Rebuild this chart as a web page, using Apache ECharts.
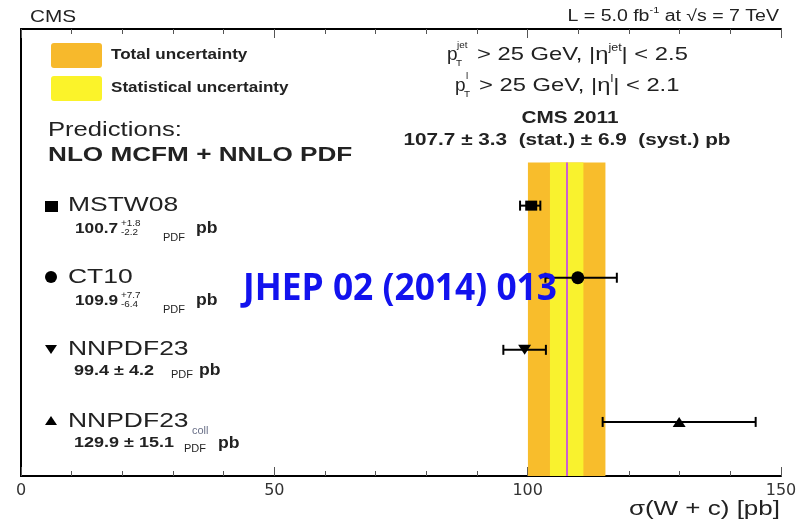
<!DOCTYPE html>
<html>
<head>
<meta charset="utf-8">
<script src="https://cdn.jsdelivr.net/npm/echarts@6/dist/echarts.min.js"></script>
<style>
html,body{margin:0;padding:0;background:#fff;}
#chart{width:807px;height:520px;}
</style>
</head>
<body>
<div id="chart"></div>
<script>
// ---- data ----
var predNames = ['MSTW08', 'CT10', 'NNPDF23', 'NNPDF23coll'];
var predValues = [100.7, 109.9, 99.4, 129.9];
var predErrUp = [1.8, 7.7, 4.2, 15.1];
var predErrDown = [2.2, 6.4, 4.2, 15.1];
var predRows = [3.75, 2.75, 1.75, 0.75];
var measValue = 107.7;
var measStat = 3.3;
var measSyst = 6.9;
var xTicks = [0, 50, 100, 150];

var measTotal = Math.sqrt(measStat * measStat + measSyst * measSyst);
var bandTop = 4.35;

var chart = echarts.init(document.getElementById('chart'));

var FONT = '"Liberation Sans", Arial, sans-serif';
var SX = 1.22;

function txt(x, y, text, size, opts) {
  opts = opts || {};
  return {
    type: 'text', x: x, y: y, scaleX: opts.sx || SX, z: 100,
    style: {
      text: text,
      fontFamily: opts.family || FONT,
      fontSize: size,
      fontWeight: opts.bold ? 'bold' : 'normal',
      fill: opts.color || '#222',
      align: opts.align || 'left',
      verticalAlign: 'middle',
      rich: opts.rich
    }
  };
}

var richSup = {
  m: {fontSize: 19, fontFamily: FONT, fill: '#222', lineHeight: 24, verticalAlign: 'middle'},
  sup: {fontSize: 10, fontFamily: FONT, fill: '#222', lineHeight: 12, verticalAlign: 'top'}
};

var markerData = predValues.map(function (v, i) { return [v, predRows[i]]; });
var errData = predValues.map(function (v, i) {
  return [v - predErrDown[i], v + predErrUp[i], predRows[i]];
});

var symbols = ['rect', 'circle', 'path://M0,0 L12,0 L6,10 Z', 'path://M6,0 L12,10 L0,10 Z'];
var symbolSizes = [[12, 10], 13, [13, 10], [13, 10]];

var graphics = [
  txt(30, 17, 'CMS', 17),
  txt(779, 17, '{m|L = 5.0 fb}{sup|-1}{m| at √s = 7 TeV}', 16, {align: 'right', rich: {
    m: {fontSize: 16, fontFamily: FONT, fill: '#222', lineHeight: 22},
    sup: {fontSize: 9, fontFamily: FONT, fill: '#222', lineHeight: 10, verticalAlign: 'top'}
  }}),
  {type: 'rect', z: 100, shape: {x: 51, y: 43, width: 51, height: 25, r: 3}, style: {fill: '#f7b92c'}},
  {type: 'rect', z: 100, shape: {x: 51, y: 76, width: 51, height: 25, r: 3}, style: {fill: '#fbf32a'}},
  txt(111, 55, 'Total uncertainty', 14, {bold: true}),
  txt(111, 88, 'Statistical uncertainty', 14, {bold: true}),
  txt(48, 130, 'Predictions:', 21),
  txt(48, 155, 'NLO MCFM + NNLO PDF', 21, {bold: true, sx: 1.245}),

  // kinematic cuts
  txt(447, 55, 'p', 19, {sx: 1.0}),
  txt(456, 64, 'T', 9, {sx: 1.1}),
  txt(457, 46, 'jet', 9, {sx: 1.1}),
  txt(477, 55, '{m|> 25 GeV, |η}{sup|jet}{m|| < 2.5}', 19, {rich: richSup, sx: 1.25}),
  txt(455, 86, 'p', 19, {sx: 1.0}),
  txt(464, 95, 'T', 9, {sx: 1.1}),
  txt(466, 77, 'l', 9, {sx: 1.1}),
  txt(479, 86, '{m|> 25 GeV, |η}{sup|l}{m|| < 2.1}', 19, {rich: richSup, sx: 1.25}),
  txt(570, 118, 'CMS 2011', 17, {bold: true, align: 'center'}),
  txt(567, 140, '107.7 ± 3.3  (stat.) ± 6.9  (syst.) pb', 17, {bold: true, align: 'center'}),

  // prediction labels
  {type: 'rect', z: 100, shape: {x: 45, y: 201, width: 13, height: 11}, style: {fill: '#000'}},
  txt(68, 205, 'MSTW08', 21, {sx: 1.26}),
  txt(75, 229, '100.7', 15, {bold: true, sx: 1.15}),
  txt(121, 224, '+1.8', 9, {sx: 1.1}),
  txt(121, 233, '-2.2', 9, {sx: 1.1}),
  txt(163, 238, 'PDF', 10, {sx: 1.1}),
  txt(196, 229, 'pb', 16, {bold: true, sx: 1.1}),

  {type: 'circle', z: 100, shape: {cx: 51, cy: 277, r: 6}, style: {fill: '#000'}},
  txt(68, 277, 'CT10', 21, {sx: 1.26}),
  txt(75, 301, '109.9', 15, {bold: true, sx: 1.15}),
  txt(121, 296, '+7.7', 9, {sx: 1.1}),
  txt(121, 305, '-6.4', 9, {sx: 1.1}),
  txt(163, 310, 'PDF', 10, {sx: 1.1}),
  txt(196, 301, 'pb', 16, {bold: true, sx: 1.1}),

  {type: 'polygon', z: 100, shape: {points: [[45, 345], [57, 345], [51, 354]]}, style: {fill: '#000'}},
  txt(68, 349, 'NNPDF23', 21, {sx: 1.26}),
  txt(74, 371, '99.4 ± 4.2', 15, {bold: true, sx: 1.2}),
  txt(171, 375, 'PDF', 10, {sx: 1.1}),
  txt(199, 371, 'pb', 16, {bold: true, sx: 1.1}),

  {type: 'polygon', z: 100, shape: {points: [[51, 416], [57, 425], [45, 425]]}, style: {fill: '#000'}},
  txt(68, 421, 'NNPDF23', 21, {sx: 1.26}),
  txt(192, 431, 'coll', 10, {color: '#6a7088', sx: 1.1}),
  txt(74, 443, '129.9 ± 15.1', 15, {bold: true, sx: 1.2}),
  txt(184, 449, 'PDF', 10, {sx: 1.1}),
  txt(218, 444, 'pb', 16, {bold: true, sx: 1.1}),

  // axis title
  txt(780, 509, 'σ(W + c) [pb]', 20, {align: 'right', sx: 1.3}),

  // watermark
  {type: 'text', x: 400, y: 289, scaleX: 0.955, z: 200,
    style: {text: 'JHEP 02 (2014) 013', fontFamily: '"Open Sans", sans-serif', fontWeight: 'bold',
      fontSize: 37, fill: '#1212ee', align: 'center', verticalAlign: 'middle'}}
];

var axisCommon = {
  type: 'value', min: 0, max: 150, interval: 50,
  axisLine: {show: true, onZero: false, lineStyle: {color: '#000', width: 2}},
  axisTick: {show: true, inside: true, length: 9, lineStyle: {color: '#555', width: 1}},
  minorTick: {show: true, splitNumber: 5, length: 5, lineStyle: {color: '#555', width: 1}},
  splitLine: {show: false}
};

var option = {
  animation: false,
  backgroundColor: '#fff',
  grid: {left: 21, right: 26, top: 29, bottom: 44},
  xAxis: [
    Object.assign({}, axisCommon, {
      position: 'bottom',
      axisLabel: {show: true, color: '#333', fontFamily: '"DejaVu Sans", sans-serif', fontSize: 16, margin: 7,
        formatter: function (v) { return xTicks.indexOf(v) >= 0 ? String(v) : ''; }}
    }),
    Object.assign({}, axisCommon, {position: 'top', axisLabel: {show: false}})
  ],
  yAxis: [
    {type: 'value', min: 0, max: 6.2, position: 'left',
      axisLine: {show: true, lineStyle: {color: '#000', width: 2}},
      axisTick: {show: false}, axisLabel: {show: false}, splitLine: {show: false}},
    {type: 'value', min: 0, max: 6.2, position: 'right',
      axisLine: {show: true, lineStyle: {color: '#000', width: 2}},
      axisTick: {show: false}, axisLabel: {show: false}, splitLine: {show: false}}
  ],
  series: [
    {
      type: 'scatter', data: [], silent: true, z: 1,
      markArea: {
        silent: true,
        data: [
          [{xAxis: measValue - measTotal, yAxis: 0, itemStyle: {color: '#f8bd2c'}}, {xAxis: measValue + measTotal, yAxis: bandTop}],
          [{xAxis: measValue - measStat, yAxis: 0, itemStyle: {color: '#f9f22e'}}, {xAxis: measValue + measStat, yAxis: bandTop}]
        ]
      },
      markLine: {
        silent: true, symbol: ['none', 'none'], label: {show: false},
        lineStyle: {color: '#cc60d0', width: 2, type: 'solid'},
        data: [[{coord: [measValue, 0]}, {coord: [measValue, bandTop]}]]
      }
    },
    {
      type: 'custom', z: 5, silent: true,
      data: errData,
      renderItem: function (params, api) {
        var p1 = api.coord([api.value(0), api.value(2)]);
        var p2 = api.coord([api.value(1), api.value(2)]);
        var h = 5;
        var st = {stroke: '#000', lineWidth: 2};
        return {type: 'group', children: [
          {type: 'line', shape: {x1: p1[0], y1: p1[1], x2: p2[0], y2: p2[1]}, style: st},
          {type: 'line', shape: {x1: p1[0], y1: p1[1] - h, x2: p1[0], y2: p1[1] + h}, style: st},
          {type: 'line', shape: {x1: p2[0], y1: p2[1] - h, x2: p2[0], y2: p2[1] + h}, style: st}
        ]};
      }
    },
    {
      type: 'scatter', z: 6, silent: true,
      data: markerData.map(function (d, i) {
        return {value: d, symbol: symbols[i], symbolSize: symbolSizes[i]};
      }),
      itemStyle: {color: '#000', opacity: 1}
    }
  ],
  graphic: graphics
};
chart.setOption(option);
</script>
</body>
</html>
